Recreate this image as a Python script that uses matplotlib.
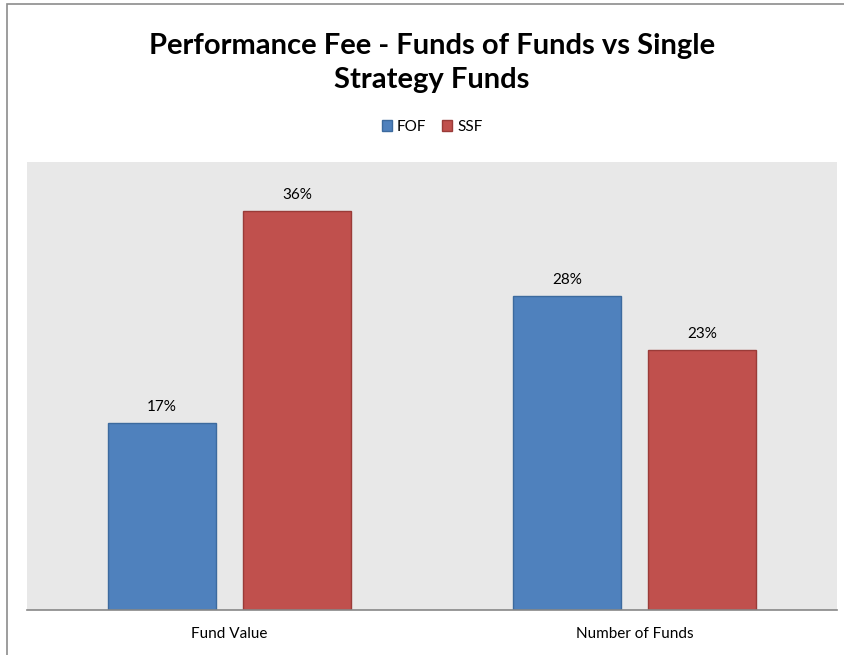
import matplotlib.pyplot as plt
import numpy as np
from matplotlib.patches import Rectangle, Patch

plt.rcParams['font.family'] = ['Lato', 'DejaVu Sans']

categories = ['Fund Value', 'Number of Funds']
series = ['FOF', 'SSF']
fof = [0.167, 0.280]
ssf = [0.356, 0.232]
colors = ['#4F81BD', '#C0504D']
edges = ['#3C6A9E', '#9A3B38']

fig = plt.figure(figsize=(8.45, 6.55), dpi=100)
# outer chart border (left and top visible)
fig.patches.append(Rectangle((7 / 845, -0.1), 1.2, 1 - 4 / 655 + 0.1, transform=fig.transFigure,
                             fill=False, edgecolor='#8C8C8C', linewidth=1.2))

ax = fig.add_axes([27 / 845, 1 - 610 / 655, 810 / 845, 448 / 655])
ax.set_facecolor('#E8E8E8')

x = np.arange(len(categories))
w = 0.267
off = 0.1667
for i, vals in enumerate([fof, ssf]):
    pos = x + (i * 2 - 1) * off
    bars = ax.bar(pos, vals, w, color=colors[i], edgecolor=edges[i], linewidth=1, label=series[i])
    for b, v in zip(bars, vals):
        ax.text(b.get_x() + b.get_width() / 2, v + 0.008, f'{round(v * 100):.0f}%',
                ha='center', va='bottom', fontsize=11)

ax.set_xlim(-0.5, 1.5)
ax.set_ylim(0, 0.40)
ax.set_yticks([])
ax.set_xticks(x)
ax.set_xticklabels(categories, fontsize=11)
ax.tick_params(axis='x', length=0, pad=12)
for s in ['left', 'right', 'top']:
    ax.spines[s].set_visible(False)
ax.spines['bottom'].set_color('#878787')
ax.spines['bottom'].set_linewidth(1.2)

fig.text(432 / 845, 1 - 63 / 655, 'Performance Fee - Funds of Funds vs Single\nStrategy Funds',
         ha='center', va='center', fontsize=21, fontweight='bold', linespacing=1.35)

handles = [Patch(facecolor=colors[i], edgecolor=edges[i]) for i in range(2)]
fig.legend(handles, series, loc='center', bbox_to_anchor=(432 / 845, 1 - 127 / 655), ncol=2,
           frameon=False, fontsize=11, handlelength=0.7, handleheight=0.7, handletextpad=0.3,
           columnspacing=1.0)

fig.savefig('out.png', dpi=100)
